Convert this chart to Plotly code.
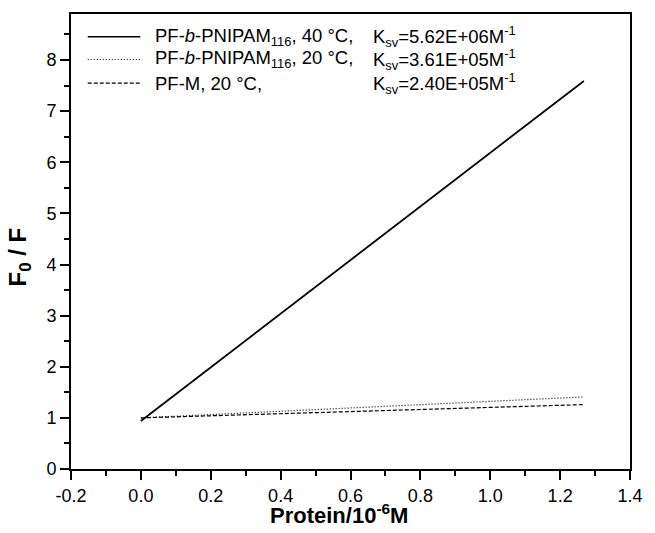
import plotly.graph_objects as go

# Data
protein = [0.0, 1.268]
f0f_pnipam_40 = [0.94, 7.59]
f0f_pnipam_20 = [1.00, 1.41]
f0f_pfm_20 = [1.00, 1.26]

series_labels = [
    "PF-<i>b</i>-PNIPAM<sub>116</sub>, 40 °C,",
    "PF-<i>b</i>-PNIPAM<sub>116</sub>, 20 °C,",
    "PF-M, 20 °C,",
]
ksv_labels = [
    "K<sub>sv</sub>=5.62E+06M<sup>-1</sup>",
    "K<sub>sv</sub>=3.61E+05M<sup>-1</sup>",
    "K<sub>sv</sub>=2.40E+05M<sup>-1</sup>",
]
series_y = [f0f_pnipam_40, f0f_pnipam_20, f0f_pfm_20]
series_dash = ["solid", "1px,2px", "4px,2px"]
series_width = [1.8, 1.2, 1.2]

x_tickvals = [-0.2, 0.0, 0.2, 0.4, 0.6, 0.8, 1.0, 1.2, 1.4]
x_ticktext = ["-0.2", "0.0", "0.2", "0.4", "0.6", "0.8", "1.0", "1.2", "1.4"]
y_tickvals = [0, 1, 2, 3, 4, 5, 6, 7, 8]

x_title = "<b>Protein/10<sup>-6</sup>M</b>"
y_title = "<b>F<sub>0</sub> / F</b>"

font_family = "Liberation Sans, Arial, sans-serif"

fig = go.Figure()
for name, ys, dash, w in zip(series_labels, series_y, series_dash, series_width):
    fig.add_trace(go.Scatter(
        x=protein, y=ys, mode="lines", name=name, showlegend=False,
        line=dict(color="black", width=w, dash=dash),
    ))

# Legend drawn as key lines + text (paper coordinates)
legend_rows = [0.950, 0.900, 0.848]
for row_y, label, ksv, dash, w in zip(legend_rows, series_labels, ksv_labels, series_dash, series_width):
    fig.add_shape(type="line", xref="paper", yref="paper",
                  x0=0.030, x1=0.124, y0=row_y, y1=row_y,
                  line=dict(color="black", width=1.3 if dash == "solid" else w, dash=dash))
    fig.add_annotation(xref="paper", yref="paper", x=0.147, y=row_y,
                       xanchor="left", yanchor="middle", showarrow=False,
                       text=label, font=dict(size=18.5, family=font_family))
    fig.add_annotation(xref="paper", yref="paper", x=0.537, y=row_y,
                       xanchor="left", yanchor="middle", showarrow=False,
                       text=ksv, font=dict(size=18.5, family=font_family))

# Axis titles
fig.add_annotation(xref="paper", yref="paper", x=0.479, y=-0.099,
                   xanchor="center", yanchor="middle", showarrow=False,
                   text=x_title, font=dict(size=22, family=font_family))
fig.add_annotation(xref="paper", yref="paper", x=-0.093, y=0.465,
                   xanchor="center", yanchor="middle", showarrow=False, textangle=-90,
                   text=y_title, font=dict(size=24, family=font_family))

fig.update_layout(
    width=655, height=533,
    margin=dict(l=71, r=12, t=13, b=64),
    plot_bgcolor="white", paper_bgcolor="white",
    font=dict(family=font_family, size=18, color="black"),
    showlegend=False,
    xaxis=dict(
        range=[-0.2, 1.4], tickvals=x_tickvals, ticktext=x_ticktext,
        ticks="outside", ticklen=9, tickwidth=1.5, tickcolor="black",
        minor=dict(dtick=0.1, ticks="outside", ticklen=5, tickwidth=1.5, tickcolor="black"),
        showline=True, linecolor="black", linewidth=2, mirror=True,
        showgrid=False, zeroline=False,
        tickfont=dict(size=18),
    ),
    yaxis=dict(
        range=[0, 8.9], tickvals=y_tickvals,
        ticks="outside", ticklen=9, tickwidth=1.5, tickcolor="black",
        minor=dict(dtick=0.5, ticks="outside", ticklen=5, tickwidth=1.5, tickcolor="black"),
        showline=True, linecolor="black", linewidth=2, mirror=True,
        showgrid=False, zeroline=False,
        tickfont=dict(size=18),
    ),
)

fig.write_html("out.html", config={"displayModeBar": False},
               post_script="document.body.style.margin='0px';")
